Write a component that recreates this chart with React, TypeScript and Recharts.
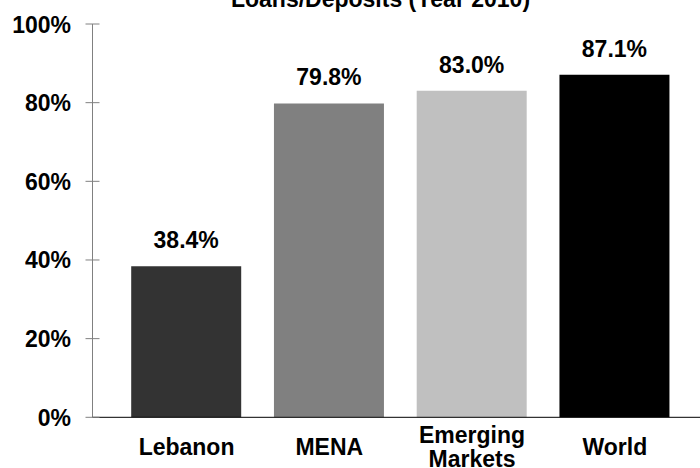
import { BarChart, Bar, XAxis, YAxis, Cell, LabelList } from 'recharts'

const categories = ['Lebanon', 'MENA', 'Emerging Markets', 'World']
const loanToDeposit = [38.4, 79.8, 83.0, 87.1]
const barColors = ['#333333', '#808080', '#C0C0C0', '#000000']
const yTicks = [0, 20, 40, 60, 80, 100]

const FONT = '"Liberation Sans", Arial, sans-serif'
const FS = 23

const data = categories.map((name, i) => ({ name, value: loanToDeposit[i] }))

function YTick(props: any) {
  const { x, y, payload } = props
  return (
    <g>
      <line x1={x - 7} x2={x + 7} y1={y} y2={y} stroke="#808080" strokeWidth={1} />
      <text
        x={x - 21.5}
        y={y}
        dy={8.5}
        textAnchor="end"
        fontFamily={FONT}
        fontWeight="bold"
        fontSize={FS}
        fill="#000"
      >
        {payload.value}%
      </text>
    </g>
  )
}

function XTick(props: any) {
  const { x, y, payload } = props
  const lines = String(payload.value).split(' ')
  const first = 37.5 - (lines.length - 1) * 12
  return (
    <text
      x={x}
      y={y + first}
      textAnchor="middle"
      fontFamily={FONT}
      fontWeight="bold"
      fontSize={FS}
      fill="#000"
    >
      {lines.map((l, i) => (
        <tspan key={i} x={x} dy={i === 0 ? 0 : 24}>
          {l}
        </tspan>
      ))}
    </text>
  )
}

export default function App() {
  return (
    <div style={{ position: 'absolute', left: 0, top: 0, width: 700, height: 468, background: '#fff' }}>
      <BarChart
        width={700}
        height={468}
        data={data}
        margin={{ top: 24, right: 0, bottom: 0, left: 0 }}
      >
        <YAxis
          width={92.5}
          domain={[0, 100]}
          ticks={yTicks}
          interval={0}
          axisLine={{ stroke: '#808080' }}
          tickLine={false}
          tickSize={0}
          tickMargin={0}
          tick={<YTick />}
        />
        <XAxis
          dataKey="name"
          height={50.7}
          padding={{ left: 22.7, right: 13.8 }}
          axisLine={{ stroke: '#000' }}
          tickLine={false}
          tickSize={0}
          tickMargin={0}
          interval={0}
          tick={<XTick />}
        />
        <Bar dataKey="value" barSize={110} isAnimationActive={false}>
          {data.map((_, idx) => (
            <Cell key={idx} fill={barColors[idx]} />
          ))}
          <LabelList
            dataKey="value"
            position="top"
            offset={18}
            formatter={(v: any) => `${Number(v).toFixed(1)}%`}
            style={{ fontFamily: FONT, fontWeight: 'bold', fontSize: FS, fill: '#000' }}
          />
        </Bar>
      </BarChart>
      <svg
        width={700}
        height={30}
        style={{ position: 'absolute', left: 0, top: 0, pointerEvents: 'none' }}
      >
        <text
          x={380.5}
          y={7}
          textAnchor="middle"
          fontFamily={FONT}
          fontWeight="bold"
          fontSize={FS}
          fill="#000"
        >
          Loans/Deposits (Year 2010)
        </text>
      </svg>
    </div>
  )
}
